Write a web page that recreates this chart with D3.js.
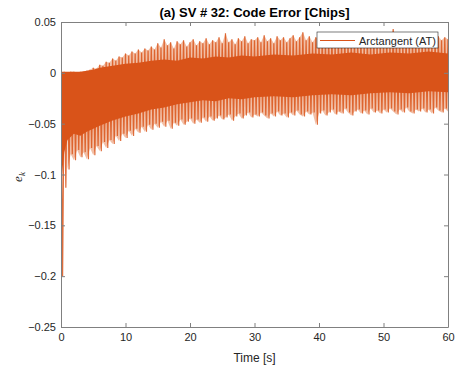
<!DOCTYPE html>
<html>
<head>
<meta charset="utf-8">
<script src="https://cdn.jsdelivr.net/npm/d3@7"></script>
<style>
  body { margin: 0; background: #fff; }
  svg { display: block; font-family: "Liberation Sans", Arial, sans-serif; }
</style>
</head>
<body>
<figure id="chart" style="margin:0"></figure>
<script>
const title = "(a) SV # 32: Code Error [Chips]";
const xLabel = "Time [s]";
const legendLabel = "Arctangent (AT)";

const xTicks = [0, 10, 20, 30, 40, 50, 60];
const yTicks = [0.05, 0, -0.05, -0.1, -0.15, -0.2, -0.25];

// spike peaks, one pair every 0.5 s (upper at t, lower at t + 0.25)
const spikeStep = 0.5;
const spikeHi = [
  0.001, 0.001, 0.000, 0.001, 0.001, 0.000, 0.001, 0.001, 0.002,
  0.003, 0.005, 0.004, 0.008, 0.007, 0.011,
  0.010, 0.014, 0.012, 0.016, 0.015, 0.019,
  0.017, 0.021, 0.019, 0.023, 0.020, 0.024, 0.022, 0.026, 0.023, 0.029,
  0.025, 0.033, 0.027, 0.030, 0.024, 0.031, 0.028, 0.032, 0.026, 0.030,
  0.033, 0.027, 0.031, 0.029, 0.034, 0.028, 0.032, 0.030, 0.035, 0.029,
  0.039, 0.030, 0.033, 0.028, 0.034, 0.031, 0.036, 0.029, 0.033, 0.032,
  0.035, 0.030, 0.037, 0.031, 0.034, 0.029, 0.036, 0.032, 0.035, 0.030,
  0.034, 0.037, 0.031, 0.035, 0.040, 0.032, 0.036, 0.030, 0.035, 0.033,
  0.036, 0.031, 0.034, 0.037, 0.030, 0.035, 0.032, 0.036, 0.031, 0.034,
  0.037, 0.032, 0.035, 0.030, 0.036, 0.033, 0.038, 0.031, 0.035, 0.032,
  0.036, 0.030, 0.043, 0.033, 0.035, 0.031, 0.037, 0.032, 0.034, 0.036,
  0.031, 0.035, 0.033, 0.037, 0.030, 0.034, 0.036, 0.032, 0.035, 0.033
];
const spikeLo = [
  -0.200, -0.113, -0.095, -0.080, -0.086, -0.076, -0.083, -0.078, -0.085,
  -0.074, -0.081, -0.072, -0.077, -0.068, -0.074,
  -0.066, -0.070, -0.062, -0.067, -0.060, -0.064,
  -0.057, -0.062, -0.055, -0.059, -0.053, -0.058, -0.051, -0.056, -0.050, -0.054,
  -0.048, -0.053, -0.047, -0.055, -0.049, -0.052, -0.046, -0.051, -0.048, -0.045,
  -0.050, -0.046, -0.049, -0.044, -0.048, -0.043, -0.047, -0.045, -0.042, -0.046,
  -0.044, -0.041, -0.047, -0.043, -0.040, -0.045, -0.042, -0.039, -0.044, -0.041,
  -0.043, -0.039, -0.042, -0.045, -0.040, -0.043, -0.038, -0.042, -0.040, -0.044,
  -0.039, -0.042, -0.037, -0.041, -0.043, -0.038, -0.041, -0.039, -0.051, -0.040,
  -0.037, -0.042, -0.039, -0.036, -0.041, -0.038, -0.040, -0.035, -0.039, -0.042,
  -0.038, -0.036, -0.040, -0.037, -0.041, -0.035, -0.039, -0.037, -0.040, -0.036,
  -0.039, -0.035, -0.038, -0.041, -0.036, -0.039, -0.034, -0.038, -0.040, -0.036,
  -0.038, -0.035, -0.039, -0.036, -0.040, -0.034, -0.037, -0.039, -0.035, -0.038
];

// dense band where most of the oscillation sits
const coreT = [0, 0.5, 1, 2, 3, 4, 5, 6, 8, 10,
  12, 14, 16, 18, 20, 22, 24, 26, 28, 30,
  33, 36, 39, 42, 45, 48, 51, 54, 57, 60];
const coreHi = [0.001, 0.001, 0.001, 0.001, 0.001, 0.002, 0.003, 0.005, 0.007, 0.009,
  0.010, 0.012, 0.013, 0.012, 0.015, 0.014, 0.016, 0.015, 0.017, 0.016,
  0.018, 0.017, 0.019, 0.018, 0.020, 0.018, 0.020, 0.019, 0.021, 0.019];
const coreLo = [-0.110, -0.078, -0.066, -0.060, -0.062, -0.058, -0.055, -0.052, -0.047, -0.043,
  -0.040, -0.036, -0.034, -0.031, -0.029, -0.027, -0.028, -0.025, -0.026, -0.024,
  -0.023, -0.024, -0.022, -0.021, -0.022, -0.020, -0.019, -0.020, -0.018, -0.019];

const color = "#D95319";
const width = 455, height = 370;
const margin = { top: 22, right: 7, bottom: 43, left: 61 };
const w = width - margin.left - margin.right;
const h = height - margin.top - margin.bottom;

const x = d3.scaleLinear().domain([0, 60]).range([0, w]);
const y = d3.scaleLinear().domain([-0.25, 0.05]).range([h, 0]);

const svg = d3.select("#chart")
  .append("svg")
  .attr("width", width)
  .attr("height", height);

const g = svg.append("g")
  .attr("transform", "translate(" + margin.left + "," + margin.top + ")");

g.append("clipPath").attr("id", "clip")
  .append("rect").attr("width", w).attr("height", h);

const plot = g.append("g").attr("clip-path", "url(#clip)");

// faint fill between spike tips, gives the half-covered look of the dense trace
plot.append("path")
  .datum(spikeHi.map((v, i) => ({ t: i * spikeStep, hi: v, lo: spikeLo[i] })).slice(2))
  .attr("d", d3.area()
    .x(d => x(d.t))
    .y0(d => y(d.lo))
    .y1(d => y(d.hi)))
  .style("fill", "#e88a5c")
  .style("opacity", 0.55);

const pts = [];
spikeHi.forEach((v, i) => {
  pts.push([i * spikeStep, v]);
  pts.push([i * spikeStep + spikeStep / 2, spikeLo[i]]);
});

plot.append("path")
  .datum(pts)
  .attr("d", d3.line().x(d => x(d[0])).y(d => y(d[1])))
  .style("fill", "none")
  .style("stroke", color)
  .style("stroke-opacity", 0.85)
  .style("stroke-width", 1.2);

plot.append("path")
  .datum(coreT.map((t, i) => ({ t: t, hi: coreHi[i], lo: coreLo[i] })))
  .attr("d", d3.area()
    .x(d => x(d.t))
    .y0(d => y(d.lo))
    .y1(d => y(d.hi)))
  .style("fill", color);

// axes, MATLAB style box with inward ticks
const axisColor = "#262626";
const fmt = d => d3.format("")(+d.toFixed(2));

const xAxis = g.append("g")
  .attr("transform", "translate(0," + h + ")")
  .call(d3.axisBottom(x).tickValues(xTicks).tickSizeInner(-4).tickSizeOuter(0).tickPadding(6).tickFormat(fmt));
const yAxis = g.append("g")
  .call(d3.axisLeft(y).tickValues(yTicks).tickSizeInner(-4).tickSizeOuter(0).tickPadding(5).tickFormat(fmt));
const xTop = g.append("g")
  .call(d3.axisTop(x).tickValues(xTicks).tickSizeInner(-4).tickSizeOuter(0).tickFormat(""));
const yRight = g.append("g")
  .attr("transform", "translate(" + w + ",0)")
  .call(d3.axisRight(y).tickValues(yTicks).tickSizeInner(-4).tickSizeOuter(0).tickFormat(""));

[xAxis, yAxis, xTop, yRight].forEach(a => {
  a.selectAll("path, line").style("stroke", "#808080").style("stroke-width", 1);
  a.selectAll("text").style("fill", axisColor).style("font-size", "11px")
    .style("font-family", "'Liberation Sans', Arial, sans-serif");
});

svg.append("text")
  .attr("x", margin.left + w / 2)
  .attr("y", 17)
  .attr("text-anchor", "middle")
  .style("font-weight", "bold")
  .style("font-size", "13px")
  .style("fill", "#000")
  .text(title);

svg.append("text")
  .attr("x", margin.left + w / 2)
  .attr("y", 362)
  .attr("text-anchor", "middle")
  .style("font-size", "12px")
  .style("fill", axisColor)
  .text(xLabel);

const yl = svg.append("text")
  .attr("transform", "translate(22,177) rotate(-90)")
  .attr("text-anchor", "middle")
  .style("font-family", "'Liberation Serif', 'Times New Roman', serif")
  .style("font-size", "13px")
  .style("fill", axisColor);
yl.append("tspan").style("font-style", "italic").text("e");
yl.append("tspan").style("font-style", "italic").style("font-size", "9px").attr("dy", 3).text("k");

// legend
const lg = svg.append("g").attr("transform", "translate(317,32)");
lg.append("rect")
  .attr("width", 121).attr("height", 16)
  .style("fill", "#fff")
  .style("stroke", "#262626")
  .style("stroke-width", 0.6);
lg.append("line")
  .attr("x1", 3).attr("x2", 38).attr("y1", 8.5).attr("y2", 8.5)
  .style("stroke", color).style("stroke-width", 1);
lg.append("text")
  .attr("x", 42).attr("y", 12.5)
  .style("font-size", "11px")
  .style("fill", axisColor)
  .text(legendLabel);
</script>
</body>
</html>
